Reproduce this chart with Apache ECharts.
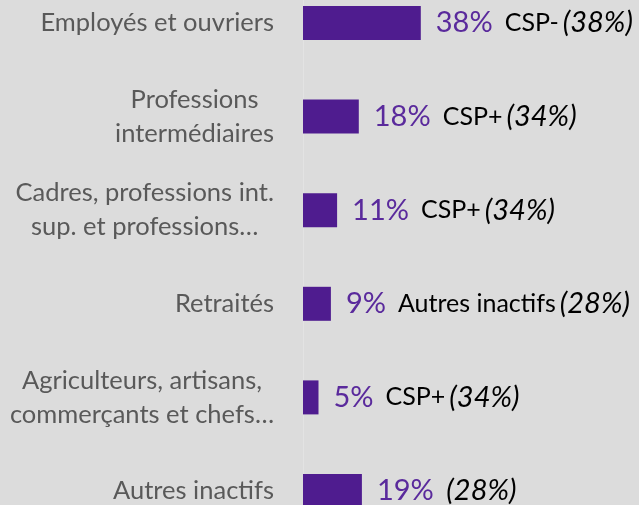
<!DOCTYPE html>
<html><head><meta charset="utf-8">
<script src="https://cdn.jsdelivr.net/npm/echarts@6/dist/echarts.min.js"></script>
<style>html,body{margin:0;padding:0;background:#dcdcdc;}#c{width:639px;height:505px;}</style>
</head><body><div id="c"></div>
<script>
const categories = ['Employés et ouvriers', 'Professions\nintermédiaires', 'Cadres, professions int.\nsup. et professions…', 'Retraités', 'Agriculteurs, artisans,\ncommerçants et chefs…', 'Autres inactifs'];
const values = [38, 18, 11, 9, 5, 19];
const groups = ['CSP-', 'CSP+', 'CSP+', 'Autres inactifs', 'CSP+', ''];
const groupShares = [38, 34, 34, 28, 34, 28];

const purple = '#4f1c8f';
const chart = echarts.init(document.getElementById('c'));
chart.setOption({
  backgroundColor: '#dcdcdc',
  animation: false,
  grid: { left: 303, width: 310, top: -23.8, height: 561.6, outerBoundsMode: 'none', containLabel: false },
  xAxis: { type: 'value', min: 0, max: 100, show: false },
  yAxis: {
    type: 'category', inverse: true, data: categories,
    axisLine: { show: true, lineStyle: { color: '#e3e3e3', width: 1 } },
    axisTick: { show: false },
    axisLabel: {
      margin: 29, align: 'right',
      formatter: function (v) {
        return v.split('\n').map(function (l) { return '{a|' + l + '}'; }).join('\n');
      },
      rich: { a: { fontFamily: 'Lato', fontSize: 25.5, color: '#595959', align: 'center', lineHeight: 34 } }
    }
  },
  series: [{
    type: 'bar', data: values, barWidth: 34,
    itemStyle: { color: purple },
    label: {
      show: true, position: 'right', distance: 15,
      formatter: function (p) {
        const i = p.dataIndex;
        let s = '{v|' + values[i] + '%}';
        if (groups[i]) s += '{g|' + groups[i] + '}';
        else s += '{sp| }';
        s += '{i|(' + groupShares[i] + '%)}';
        return s;
      },
      rich: {
        v: { fontFamily: 'Lato', fontSize: 29, color: '#5a2a9c', padding: [0, 12, 0, 0] },
        g: { fontFamily: 'Lato', fontSize: 25, color: '#000', padding: [0, 4, 0, 0] },
        sp: { fontSize: 2 },
        i: { fontFamily: 'Lato', fontSize: 29, color: '#000', fontStyle: 'italic' }
      }
    }
  }]
});
</script></body></html>
